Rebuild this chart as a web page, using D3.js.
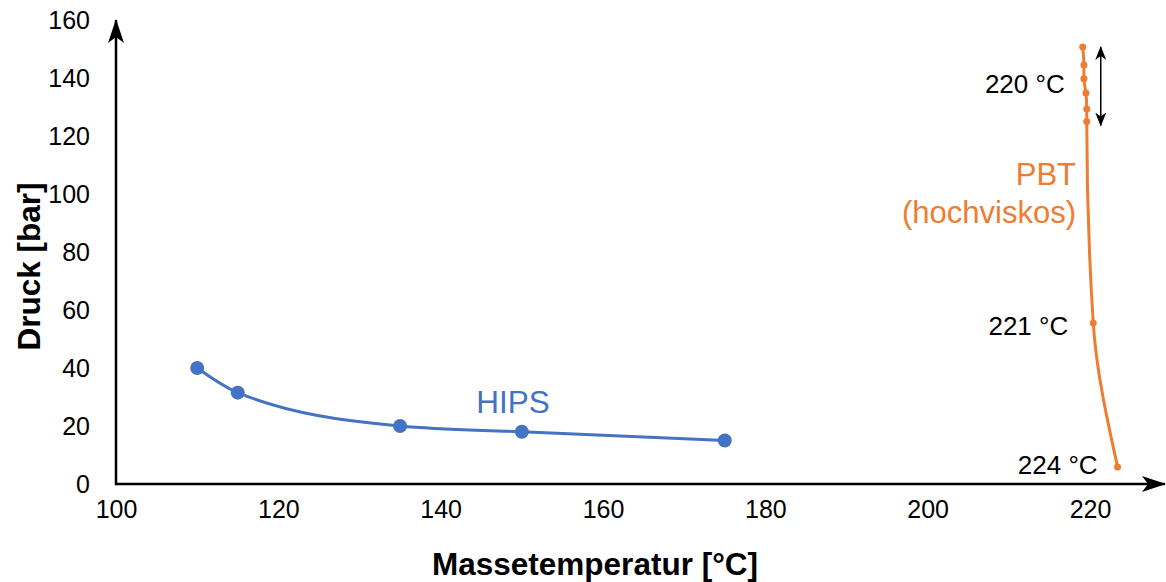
<!DOCTYPE html>
<html>
<head>
<meta charset="utf-8">
<script src="https://cdn.jsdelivr.net/npm/d3@7"></script>
<style>
    body { margin: 0; background: #fff; }
    text { font-family: "Liberation Sans", Arial, Helvetica, sans-serif; }
</style>
</head>
<body>
<script>
// Chart data.
var hipsTemp = [110, 115, 135, 150, 175];
var hipsPressure = [40, 31.5, 20, 18, 15];

var pbtTemp = [219.1, 219.25, 219.25, 219.5, 219.6, 219.6, 220.4, 223.4];
var pbtPressure = [150.7, 144.5, 139.7, 134.8, 129.3, 125, 55.5, 5.9];

var xTicks = [100, 120, 140, 160, 180, 200, 220];
var yTicks = [0, 20, 40, 60, 80, 100, 120, 140, 160];

// Melt temperature notes on the PBT curve (index into the PBT series).
var pbtNotes = [
    { text: "221 °C", index: 6 },
    { text: "224 °C", index: 7 }
];
var rangeNote = "220 °C";
var rangeFrom = 0;
var rangeTo = 5;

var seriesNames = ["HIPS", "PBT", "(hochviskos)"];
var xTitle = "Massetemperatur [°C]";
var yTitle = "Druck [bar]";

var blue = "#4472c4";
var orange = "#ed7d31";

// Plot setup.
var plotWidth = 1166;
var plotHeight = 582;

var svg = d3.select("body").append("svg")
            .attr("width", plotWidth)
            .attr("height", plotHeight);

var xScale = d3.scaleLinear()
               .domain([100, 220])
               .range([116, 1090]);

var yScale = d3.scaleLinear()
               .domain([0, 160])
               .range([484, 20]);

// Smoothed lines: HIPS runs along x, PBT runs along y.
var hipsLine = d3.line()
                 .x(function (d) { return xScale(d[0]); })
                 .y(function (d) { return yScale(d[1]); })
                 .curve(d3.curveMonotoneX);

var pbtLine = d3.line()
                .x(function (d) { return xScale(d[0]); })
                .y(function (d) { return yScale(d[1]); })
                .curve(d3.curveMonotoneY);

// Tick labels, no tick marks.
var xAxis = svg.append("g")
   .attr("transform", "translate(0, " + yScale(0) + ")")
   .call(d3.axisBottom(xScale).tickValues(xTicks).tickSize(0).tickPadding(16));
xAxis.select(".domain").remove();
xAxis.selectAll("text").attr("font-size", 25).attr("fill", "#000")
     .attr("font-family", "Liberation Sans, Arial, sans-serif");

var yAxis = svg.append("g")
   .attr("transform", "translate(" + xScale(100) + ", 0)")
   .call(d3.axisLeft(yScale).tickValues(yTicks).tickSize(0).tickPadding(26));
yAxis.select(".domain").remove();
yAxis.selectAll("text").attr("font-size", 25).attr("fill", "#000")
     .attr("font-family", "Liberation Sans, Arial, sans-serif");

// Arrow head markers for the axes and the range note.
var defs = svg.append("defs");
defs.append("marker")
    .attr("id", "arrow")
    .attr("viewBox", "0 0 14 11")
    .attr("refX", 13)
    .attr("refY", 5.5)
    .attr("markerWidth", 14)
    .attr("markerHeight", 11)
    .attr("markerUnits", "userSpaceOnUse")
    .attr("orient", "auto-start-reverse")
    .append("path")
    .attr("d", "M0,0 L14,5.5 L0,11 L4,5.5 Z")
    .attr("fill", "#000");

defs.append("marker")
    .attr("id", "bigarrow")
    .attr("viewBox", "0 0 24 16")
    .attr("refX", 23)
    .attr("refY", 8)
    .attr("markerWidth", 24)
    .attr("markerHeight", 16)
    .attr("markerUnits", "userSpaceOnUse")
    .attr("orient", "auto")
    .append("path")
    .attr("d", "M0,0 L24,8 L0,16 L6,8 Z")
    .attr("fill", "#000");

// Axis lines with arrows.
svg.append("line")
   .attr("x1", xScale(100)).attr("y1", yScale(0))
   .attr("x2", plotWidth - 1).attr("y2", yScale(0))
   .attr("stroke", "#000").attr("stroke-width", 2.5)
   .attr("marker-end", "url(#bigarrow)");

svg.append("line")
   .attr("x1", xScale(100)).attr("y1", yScale(0) + 1.25)
   .attr("x2", xScale(100)).attr("y2", yScale(160))
   .attr("stroke", "#000").attr("stroke-width", 2.5)
   .attr("marker-end", "url(#bigarrow)");

// Axis titles.
svg.append("text")
   .attr("x", 595)
   .attr("y", 575)
   .attr("text-anchor", "middle")
   .attr("font-size", 31.5)
   .attr("font-weight", "bold")
   .text(xTitle);

svg.append("text")
   .attr("transform", "translate(40, " + yScale(75) + ") rotate(-90)")
   .attr("text-anchor", "middle")
   .attr("font-size", 31.5)
   .attr("font-weight", "bold")
   .text(yTitle);

// HIPS series.
var hips = d3.zip(hipsTemp, hipsPressure);
svg.append("path")
   .datum(hips)
   .attr("fill", "none")
   .attr("stroke", blue)
   .attr("stroke-width", 3)
   .attr("d", hipsLine);
svg.selectAll(".hips-dot")
   .data(hips)
   .enter()
   .append("circle")
   .attr("class", "hips-dot")
   .attr("cx", d => xScale(d[0]))
   .attr("cy", d => yScale(d[1]))
   .attr("r", 7)
   .attr("fill", blue);

svg.append("text")
   .attr("x", 513)
   .attr("y", 413)
   .attr("text-anchor", "middle")
   .attr("font-size", 31.5)
   .attr("fill", blue)
   .text(seriesNames[0]);

// PBT series.
var pbt = d3.zip(pbtTemp, pbtPressure);
svg.append("path")
   .datum(pbt)
   .attr("fill", "none")
   .attr("stroke", orange)
   .attr("stroke-width", 3)
   .attr("d", pbtLine);
svg.selectAll(".pbt-dot")
   .data(pbt)
   .enter()
   .append("circle")
   .attr("class", "pbt-dot")
   .attr("cx", d => xScale(d[0]))
   .attr("cy", d => yScale(d[1]))
   .attr("r", 3.5)
   .attr("fill", orange);

svg.append("text")
   .attr("x", 1076)
   .attr("y", 185)
   .attr("text-anchor", "end")
   .attr("font-size", 31)
   .attr("fill", orange)
   .text(seriesNames[1]);
svg.append("text")
   .attr("x", 1076)
   .attr("y", 223)
   .attr("text-anchor", "end")
   .attr("font-size", 31)
   .attr("fill", orange)
   .text(seriesNames[2]);

// Temperature notes.
svg.selectAll(".note")
   .data(pbtNotes)
   .enter()
   .append("text")
   .attr("class", "note")
   .attr("x", d => xScale(pbtTemp[d.index]) - (d.index === 7 ? 20 : 25))
   .attr("y", d => yScale(pbtPressure[d.index]) + (d.index === 7 ? 7.5 : 12))
   .attr("text-anchor", "end")
   .attr("font-size", 26)
   .attr("fill", "#000")
   .text(d => d.text);

// Double arrow spanning the 220 °C points.
var arrowX = xScale(pbtTemp[rangeTo]) + 14;
var arrowTop = yScale(pbtPressure[rangeFrom]);
var arrowBottom = yScale(pbtPressure[rangeTo]) + 4;
svg.append("line")
   .attr("x1", arrowX).attr("y1", arrowTop)
   .attr("x2", arrowX).attr("y2", arrowBottom)
   .attr("stroke", "#000").attr("stroke-width", 1.5)
   .attr("marker-start", "url(#arrow)")
   .attr("marker-end", "url(#arrow)");

svg.append("text")
   .attr("x", xScale(pbtTemp[rangeFrom]) - 18)
   .attr("y", (arrowTop + arrowBottom) / 2 + 7)
   .attr("text-anchor", "end")
   .attr("font-size", 26)
   .attr("fill", "#000")
   .text(rangeNote);
</script>
</body>
</html>
